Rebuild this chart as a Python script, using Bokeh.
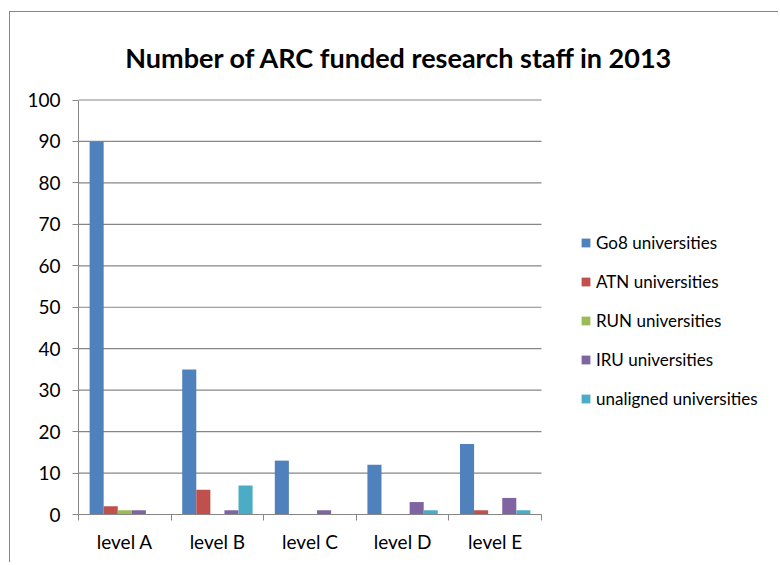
from bokeh.plotting import figure
from bokeh.models import Range1d, FixedTicker, Legend, LegendItem, Label
from bokeh.embed import file_html
from bokeh.resources import INLINE

levels = ["level A", "level B", "level C", "level D", "level E"]
series = ["Go8 universities", "ATN universities", "RUN universities",
          "IRU universities", "unaligned universities"]
go8 = [90, 35, 13, 12, 17]
atn = [2, 6, 0, 0, 1]
run = [1, 0, 0, 0, 0]
iru = [1, 1, 1, 3, 4]
unaligned = [0, 7, 0, 1, 1]
y_ticks = [0, 10, 20, 30, 40, 50, 60, 70, 80, 90, 100]
title_text = "Number of ARC funded research staff in 2013"

values = [go8, atn, run, iru, unaligned]
colors = ["#4F81BD", "#C0504D", "#9BBB59", "#8064A2", "#4BACC6"]
GRAY = "#868686"
FONT = "Lato"

# layout (pixels)
plot_w_px = 463.0      # width of the bar area
plot_h_px = 414.5      # height of the 0..100 area
frame_w = 700
frame_h = 502
n = len(levels)
y_max = y_ticks[-1]

p = figure(frame_width=frame_w, frame_height=frame_h,
           x_range=Range1d(0, n * frame_w / plot_w_px),
           y_range=Range1d(0, y_max * frame_h / plot_h_px),
           output_backend="svg", toolbar_location=None,
           min_border_left=68, min_border_right=0, min_border_top=0, min_border_bottom=48)
p.margin = (11, 0, 0, 9)
p.styles = {"border-left": "1px solid #868686", "border-top": "1px solid #868686"}
p.outline_line_color = None
p.background_fill_color = "white"
p.border_fill_color = "white"

# gridlines limited to the bar area
p.segment(x0=[0] * len(y_ticks), x1=[n] * len(y_ticks), y0=y_ticks, y1=y_ticks,
          line_color=GRAY, line_width=1.2)

gap = 0.12
w = (1 - 2 * gap) / len(series)
renderers = []
for j, (vals, col) in enumerate(zip(values, colors)):
    xs = [i + gap + w * (j + 0.5) for i in range(n)]
    r = p.vbar(x=xs, top=vals, bottom=0, width=w, fill_color=col, line_color=None)
    renderers.append(r)

# axes
yax = p.yaxis[0]
yax.ticker = FixedTicker(ticks=y_ticks)
yax.bounds = (0, y_max)
yax.axis_line_color = GRAY
yax.major_tick_line_color = GRAY
yax.major_tick_out = 6
yax.major_tick_in = 0
yax.minor_tick_line_color = None
yax.major_label_text_font = FONT
yax.major_label_text_font_size = "19px"
yax.major_label_text_color = "black"
yax.major_label_standoff = 12

xax = p.xaxis[0]
xax.ticker = FixedTicker(ticks=[i + 0.5 for i in range(n)], minor_ticks=list(range(n + 1)))
xax.bounds = (0, n)
xax.major_label_overrides = {i + 0.5: lab for i, lab in enumerate(levels)}
xax.axis_line_color = GRAY
xax.major_tick_line_color = None
xax.major_tick_out = 0
xax.major_tick_in = 0
xax.minor_tick_line_color = GRAY
xax.minor_tick_out = 6
xax.minor_tick_in = 0
xax.major_label_text_font = FONT
xax.major_label_text_font_size = "19px"
xax.major_label_text_color = "black"
xax.major_label_standoff = 9

p.xgrid.grid_line_color = None
p.ygrid.grid_line_color = None

legend = Legend(items=[LegendItem(label=s, renderers=[r]) for s, r in zip(series, renderers)],
                location=(502, 105), glyph_width=11, glyph_height=11, label_standoff=5,
                spacing=18, label_height=20, padding=0, margin=0,
                border_line_color=None, background_fill_alpha=0,
                label_text_font=FONT, label_text_font_size="17px", label_text_color="black")
p.add_layout(legend, "center")

title = Label(x=321, y=457, x_units="screen", y_units="screen", text=title_text,
              text_font=FONT, text_font_size="27px", text_font_style="bold",
              text_align="center", text_baseline="alphabetic", text_color="black")
p.add_layout(title)

open("out.html", "w").write(file_html(p, INLINE))
